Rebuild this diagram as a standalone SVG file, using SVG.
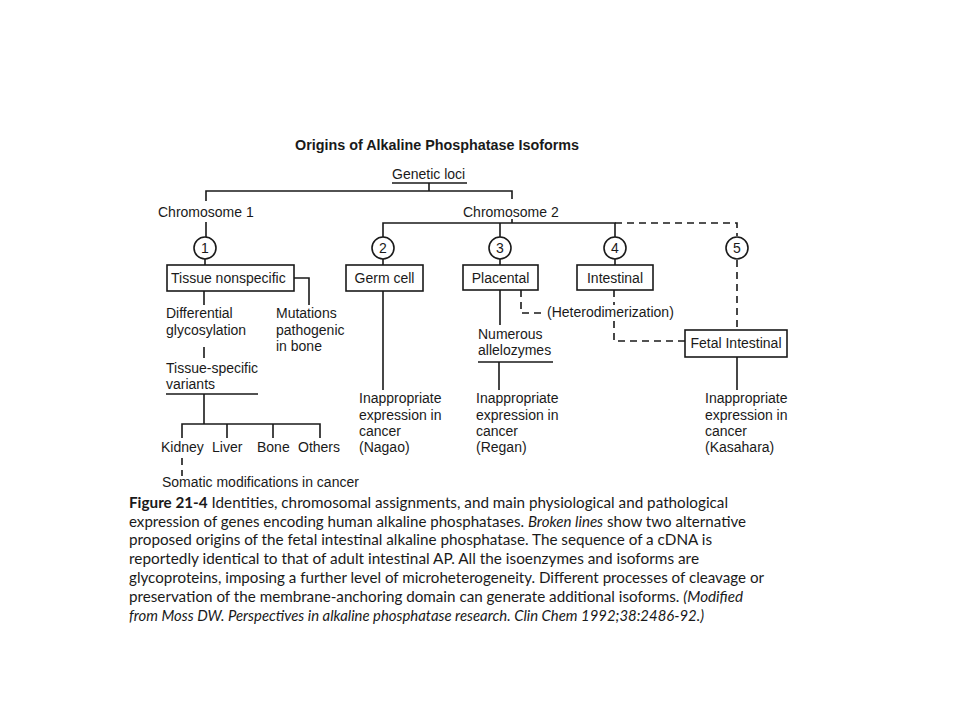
<svg xmlns="http://www.w3.org/2000/svg" width="960" height="720" viewBox="0 0 960 720">
<style>
.t{font-family:"Liberation Sans",Arial,sans-serif;font-size:14px;fill:#1a1a1a}
.b{font-weight:bold}
.ln{stroke:#1a1a1a;stroke-width:1.6;fill:none}
.d{stroke:#1a1a1a;stroke-width:1.6;fill:none;stroke-dasharray:7,5}
.box{stroke:#1a1a1a;stroke-width:1.6;fill:#fff}
.c{font-family:Lato,"Open Sans",sans-serif;font-size:15px;fill:#1a1a1a}
.i{font-style:italic}
</style>
<rect width="960" height="720" fill="#fff"/>
<text class="t b" x="295" y="150" textLength="284" lengthAdjust="spacingAndGlyphs">Origins of Alkaline Phosphatase Isoforms</text>

<g id="connectors">
<path class="ln" d="M392 183H467M429 183V191M206 201V191H512V199M512 219V223M383 248V223H615V248M500 223V237"/>
<path class="d" d="M615 223H737V236"/>
<path class="ln" d="M206 222V237M205 259V265M383 259V265M500 259V265M615 259V265"/>
<path class="ln" d="M294 278H309V305M204 291V305M204 347V358M166 394H258M204 394V424M182 438V424H320V438M227 424V438M273 424V438"/>
<path class="d" d="M182 458V476" stroke-dasharray="5,5"/>
<path class="ln" d="M383 291V390M500 290V325M478 362H553M499 362V390M737 357V390"/>
<path class="d" d="M521 290V313H545" stroke-dasharray="5,5"/>
<path class="d" d="M614 290V305M614 321V341H685" stroke-dasharray="5,5"/>
<path class="d" d="M737 260V330" stroke-dasharray="7,5"/>
</g>

<g id="genetic-loci"><text class="t" x="392" y="179">Genetic loci</text></g>
<g id="chromosome-1"><text class="t" x="158" y="217">Chromosome 1</text></g>
<g id="chromosome-2"><text class="t" x="463" y="217">Chromosome 2</text></g>

<g id="locus-1"><circle class="box" cx="205" cy="248" r="11"/><text class="t" x="205" y="253" text-anchor="middle">1</text></g>
<g id="locus-2"><circle class="box" cx="383" cy="248" r="11"/><text class="t" x="383" y="253" text-anchor="middle">2</text></g>
<g id="locus-3"><circle class="box" cx="500" cy="248" r="11"/><text class="t" x="500" y="253" text-anchor="middle">3</text></g>
<g id="locus-4"><circle class="box" cx="615" cy="248" r="11"/><text class="t" x="615" y="253" text-anchor="middle">4</text></g>
<g id="locus-5"><circle class="box" cx="737" cy="248" r="11"/><text class="t" x="737" y="253" text-anchor="middle">5</text></g>

<g id="tissue-nonspecific"><rect class="box" x="167" y="265" width="127" height="26"/><text class="t" x="171" y="283">Tissue nonspecific</text></g>
<g id="germ-cell"><rect class="box" x="346" y="265" width="77" height="26"/><text class="t" x="384.5" y="283" text-anchor="middle">Germ cell</text></g>
<g id="placental"><rect class="box" x="463" y="265" width="75" height="25"/><text class="t" x="500.5" y="283" text-anchor="middle">Placental</text></g>
<g id="intestinal"><rect class="box" x="577" y="265" width="76" height="25"/><text class="t" x="615" y="283" text-anchor="middle">Intestinal</text></g>
<g id="fetal-intestinal"><rect class="box" x="685" y="330" width="102" height="27"/><text class="t" x="736" y="348" text-anchor="middle">Fetal Intestinal</text></g>

<g id="differential-glycosylation"><text class="t" x="166" y="318">Differential</text><text class="t" x="166" y="335">glycosylation</text></g>
<g id="mutations"><text class="t" x="276" y="318">Mutations</text><text class="t" x="276" y="335">pathogenic</text><text class="t" x="276" y="351">in bone</text></g>
<g id="tissue-specific-variants"><text class="t" x="166" y="373">Tissue-specific</text><text class="t" x="166" y="389">variants</text></g>
<g id="kidney"><text class="t" x="161" y="452">Kidney</text></g>
<g id="liver"><text class="t" x="212" y="452">Liver</text></g>
<g id="bone"><text class="t" x="257" y="452">Bone</text></g>
<g id="others"><text class="t" x="298" y="452">Others</text></g>
<g id="somatic"><text class="t" x="162" y="487">Somatic modifications in cancer</text></g>

<g id="nagao"><text class="t" x="359" y="403">Inappropriate</text><text class="t" x="359" y="420">expression in</text><text class="t" x="359" y="436">cancer</text><text class="t" x="359" y="452">(Nagao)</text></g>
<g id="allelozymes"><text class="t" x="478" y="339">Numerous</text><text class="t" x="478" y="355">allelozymes</text></g>
<g id="regan"><text class="t" x="476" y="403">Inappropriate</text><text class="t" x="476" y="420">expression in</text><text class="t" x="476" y="436">cancer</text><text class="t" x="476" y="452">(Regan)</text></g>
<g id="heterodimerization"><text class="t" x="547" y="317">(Heterodimerization)</text></g>
<g id="kasahara"><text class="t" x="705" y="403">Inappropriate</text><text class="t" x="705" y="420">expression in</text><text class="t" x="705" y="436">cancer</text><text class="t" x="705" y="452">(Kasahara)</text></g>

<g id="caption">
<text class="c" x="129" y="508" textLength="599" lengthAdjust="spacingAndGlyphs"><tspan class="b">Figure 21-4</tspan>  Identities, chromosomal assignments, and main physiological and pathological</text>
<text class="c" x="129" y="527" textLength="617" lengthAdjust="spacingAndGlyphs">expression of genes encoding human alkaline phosphatases. <tspan class="i">Broken lines</tspan> show two alternative</text>
<text class="c" x="129" y="545" textLength="583" lengthAdjust="spacingAndGlyphs">proposed origins of the fetal intestinal alkaline phosphatase. The sequence of a cDNA is</text>
<text class="c" x="129" y="564" textLength="570" lengthAdjust="spacingAndGlyphs">reportedly identical to that of adult intestinal AP. All the isoenzymes and isoforms are</text>
<text class="c" x="129" y="583" textLength="635" lengthAdjust="spacingAndGlyphs">glycoproteins, imposing a further level of microheterogeneity. Different processes of cleavage or</text>
<text class="c" x="129" y="602" textLength="614" lengthAdjust="spacingAndGlyphs">preservation of the membrane-anchoring domain can generate additional isoforms.  <tspan class="i">(Modified</tspan></text>
<text class="c i" x="129" y="621" textLength="575" lengthAdjust="spacingAndGlyphs">from Moss DW. Perspectives in alkaline phosphatase research. Clin Chem 1992;38:2486-92.)</text>
</g>
</svg>
